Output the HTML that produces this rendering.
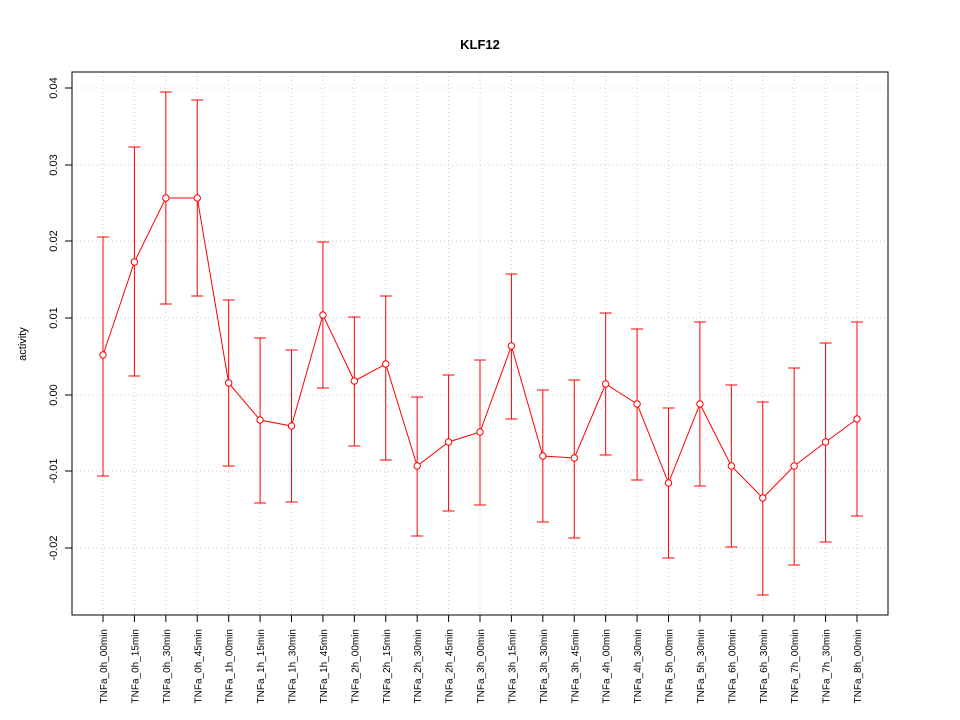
<!DOCTYPE html>
<html><head><meta charset="utf-8"><style>body{margin:0;background:#fff}svg{display:block}</style></head>
<body>
<svg id="s" width="960" height="720" xmlns="http://www.w3.org/2000/svg" font-family="Liberation Sans, sans-serif"></svg>
<script>
const s=document.getElementById('s');
const d=[[355,237,476],[262,147,376],[198,92,304],[198,100,296],[383,300,466],[420,338,503],[426,350,502],[315,242,388],[381,317,446],[364,296,460],[466,397,536],[442,375,511],[432,360,505],[346,274,419],[456,390,522],[458,380,538],[384,313,455],[404,329,480],[483,408,558],[404,322,486],[466,385,547],[498,402,595],[466,368,565],[442,343,542],[419,322,516]];
const labs=["TNFa_0h_00min","TNFa_0h_15min","TNFa_0h_30min","TNFa_0h_45min","TNFa_1h_00min","TNFa_1h_15min","TNFa_1h_30min","TNFa_1h_45min","TNFa_2h_00min","TNFa_2h_15min","TNFa_2h_30min","TNFa_2h_45min","TNFa_3h_00min","TNFa_3h_15min","TNFa_3h_30min","TNFa_3h_45min","TNFa_4h_00min","TNFa_4h_30min","TNFa_5h_00min","TNFa_5h_30min","TNFa_6h_00min","TNFa_6h_30min","TNFa_7h_00min","TNFa_7h_30min","TNFa_8h_00min"];
const n=d.length, x0=103, dx=(857-103)/(n-1);
let h='';
const yt=[[88,'0.04'],[165,'0.03'],[241,'0.02'],[318,'0.01'],[395,'0.00'],[471,'-0.01'],[548,'-0.02']];
for(const [y] of yt) h+=`<line x1="72" x2="888" y1="${y}" y2="${y}" stroke="#ccc" stroke-dasharray="1,3"/>`;
for(let i=0;i<n;i++){const x=x0+i*dx;h+=`<line x1="${x}" x2="${x}" y1="72" y2="615" stroke="#ccc" stroke-dasharray="1,3"/>`;}
h+=`<rect x="72" y="72" width="816" height="543" fill="none" stroke="#000"/>`;
for(const [y,t] of yt){h+=`<line x1="65" x2="72" y1="${y}" y2="${y}" stroke="#000"/><text transform="translate(57,${y}) rotate(-90)" text-anchor="middle" font-size="11">${t}</text>`;}
h+=`<text transform="translate(26,344) rotate(-90)" text-anchor="middle" font-size="11">activity</text>`;
h+=`<text x="480" y="49" text-anchor="middle" font-size="13" font-weight="bold">KLF12</text>`;
let p='';
for(let i=0;i<n;i++){const x=x0+i*dx,[c,t,b]=d[i];
h+=`<line x1="${x}" x2="${x}" y1="615" y2="622" stroke="#000"/><text transform="translate(${x+4},629) rotate(-90)" text-anchor="end" font-size="10">${labs[i]}</text>`;
h+=`<line x1="${x}" x2="${x}" y1="${t}" y2="${b}" stroke="red"/><line x1="${x-6}" x2="${x+6}" y1="${t}" y2="${t}" stroke="red"/><line x1="${x-6}" x2="${x+6}" y1="${b}" y2="${b}" stroke="red"/>`;
p+=(i?'L':'M')+x+','+c;}
h+=`<path d="${p}" fill="none" stroke="red"/>`;
for(let i=0;i<n;i++){h+=`<circle cx="${x0+i*dx}" cy="${d[i][0]}" r="3.2" fill="#fff" stroke="red"/>`;}
s.innerHTML=h;
</script>
</body></html>
